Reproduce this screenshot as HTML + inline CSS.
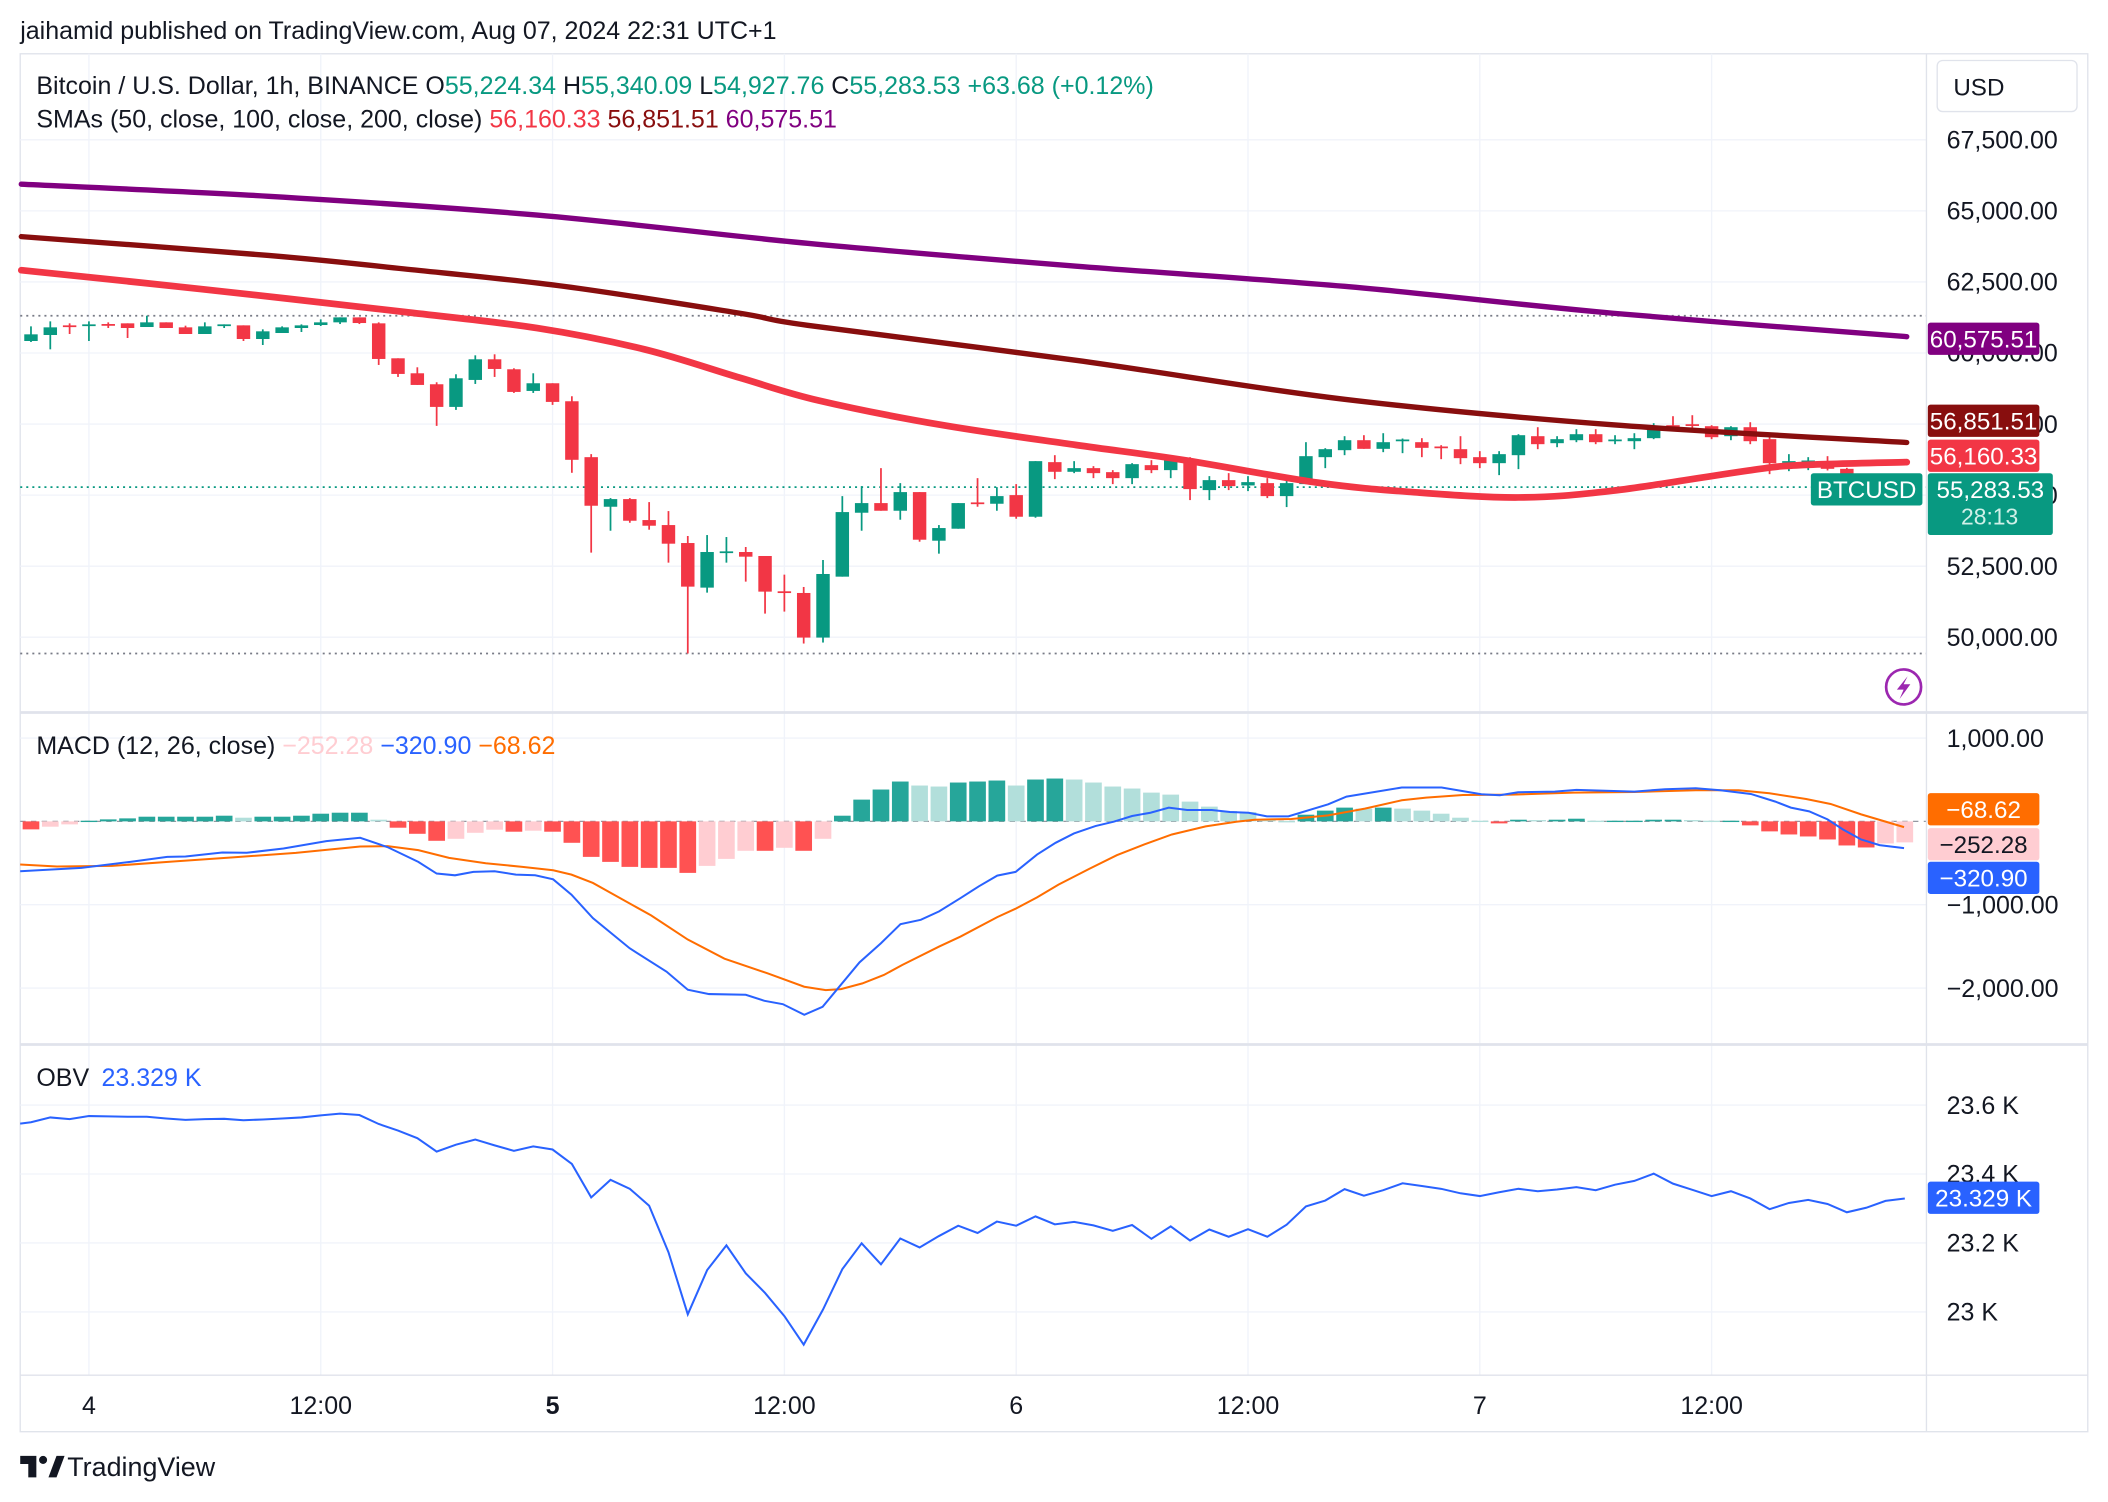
<!DOCTYPE html>
<html><head><meta charset="utf-8"><style>
html,body{margin:0;padding:0;background:#fff;}
svg{display:block;font-family:"Liberation Sans",Arial,sans-serif;}
</style></head><body>
<svg id="chart" width="2108" height="1502" viewBox="0 0 1568 1117.3" xmlns="http://www.w3.org/2000/svg">
<rect x="0" y="0" width="1568" height="1117.3" fill="#fff"/>
<text x="15" y="29" font-size="18.6" fill="#131722">jaihamid published on TradingView.com, Aug 07, 2024 22:31 UTC+1</text>
<rect x="15" y="40" width="1538" height="1025" fill="none" stroke="#e0e3eb" stroke-width="1"/>
<g id="grid"></g>
<g id="price"></g>
<g id="macd"></g>
<g id="obv"></g>
<g id="axes"></g>
<line x1="1433" y1="40" x2="1433" y2="1065" stroke="#e0e3eb"/>
<line x1="15" y1="530" x2="1553" y2="530" stroke="#e0e3eb" stroke-width="2"/>
<line x1="15" y1="777" x2="1553" y2="777" stroke="#e0e3eb" stroke-width="2"/>
<line x1="15" y1="1023" x2="1553" y2="1023" stroke="#e0e3eb"/>
<g font-size="18.6">
<text x="27" y="70" fill="#131722">Bitcoin / U.S. Dollar, 1h, BINANCE <tspan fill="#131722">O</tspan><tspan fill="#089981">55,224.34 </tspan><tspan fill="#131722">H</tspan><tspan fill="#089981">55,340.09 </tspan><tspan fill="#131722">L</tspan><tspan fill="#089981">54,927.76 </tspan><tspan fill="#131722">C</tspan><tspan fill="#089981">55,283.53 +63.68 (+0.12%)</tspan></text>
<text x="27" y="95" fill="#131722">SMAs (50, close, 100, close, 200, close) <tspan fill="#F23645">56,160.33 </tspan><tspan fill="#880E0E">56,851.51 </tspan><tspan fill="#800080">60,575.51</tspan></text>
</g>
<text x="27" y="561" font-size="18.6" fill="#131722">MACD (12, 26, close) <tspan fill="#FFCDD2">−252.28 </tspan><tspan fill="#2962FF">−320.90 </tspan><tspan fill="#FF6D00">−68.62</tspan></text>
<text x="27" y="808" font-size="18.6" fill="#131722">OBV <tspan fill="#2962FF" dx="4">23.329 K</tspan></text>
<g><rect x="1441" y="45" width="104" height="38" rx="4" fill="#fff" stroke="#e0e3eb"/><text x="1453" y="71" font-size="18" fill="#131722">USD</text></g>
<g><circle cx="1416" cy="511" r="13" fill="#fff" stroke="#9C27B0" stroke-width="2"/><path d="M1419 503 L1411 513 L1416 513 L1413 520 L1421 509 L1416 509 Z" fill="#9C27B0"/></g>
<g><path d="M15 1083 h12 v16 h-6 v-10 h-6 z" fill="#131722"/><circle cx="32" cy="1086" r="3" fill="#131722"/><path d="M36 1099 l6 -16 h6 l-6 16 z" fill="#131722"/><text x="50" y="1098" font-size="20" fill="#131722">TradingView</text></g>
</svg>
<script>
// ---------- DATA ----------
const opens=[60422,60633,60972,60949,61019,61043,60914,61078,60902,60668,60949,60972,60492,60703,60879,60984,61078,61253,61043,59813,59286,58900,58103,59052,59778,59427,58665,58935,58302,56335,54591,54860,54122,53946,53314,51745,52998,52998,52858,51616,51557,49988,52131,54380,54719,54450,55106,53396,53818,54743,54696,55000,54239,56160,55820,55949,55808,55597,56054,55879,56265,55176,55527,55340,55422,54965,55387,56335,56581,56932,56628,56932,56862,56710,56616,56335,56124,56405,57073,56827,56932,57143,56921,56897,57003,57459,57494,57424,57073,57389,56968,56160,56183,56160,55925,55300,55250,55224];
const closes=[60656,60902,60914,61007,60961,60879,61078,60879,60668,60937,61007,60492,60762,60902,60972,61078,61253,61054,59790,59263,58876,58103,59110,59778,59438,58630,58935,58279,56242,54626,54860,54098,53923,53291,51780,52998,53021,52834,51604,51581,49988,52225,54403,54719,54450,55106,53431,53841,54719,54696,54965,54239,56195,55820,55949,55773,55597,56089,55879,56230,55211,55527,55316,55457,54965,55422,56370,56616,56932,56628,56862,56956,56663,56675,56300,56124,56441,57108,56792,56968,57143,56862,56956,57003,57424,57424,57459,57038,57389,56897,56124,56195,56218,55925,55300,55250,55224,55283];
const highs=[60937,61113,61043,61113,61078,61043,61312,61078,60961,61078,61007,60972,60832,60937,61007,61183,61253,61253,61078,59813,59497,58970,59251,59918,59954,59462,59286,58935,58478,56441,54895,54895,54754,54438,53560,53595,53525,53174,52858,52202,51768,52717,54965,55316,55949,55422,55106,53946,54719,55597,55281,55387,56195,56405,56195,56019,55879,56124,56230,56335,56335,55668,55773,55668,55597,55633,56862,56651,57073,57108,57178,56991,57003,56757,57073,56546,56546,57143,57389,57073,57319,57319,57108,57178,57530,57776,57811,57459,57424,57565,57073,56441,56335,56370,55960,55400,55340,55340];
const lows=[60387,60129,60668,60422,60879,60527,60914,60879,60668,60668,60879,60422,60281,60703,60738,60949,61019,61019,59579,59157,58876,57436,57998,58911,59157,58595,58595,58174,55785,52975,53747,54028,53783,52624,49426,51569,52624,51956,50831,50902,49778,49813,52131,53747,54450,54134,53361,52940,53818,54591,54450,54169,54204,55562,55773,55597,55387,55387,55773,55597,54825,54825,55176,55141,54895,54579,55387,55949,56405,56628,56511,56476,56335,56265,56089,55949,55703,55914,56616,56686,56862,56792,56792,56616,56968,57249,57319,56968,56932,56792,55738,55843,55879,55867,55200,55150,55100,54927];
const smaHours=[-0.5,8.8,19.3,26.2,31.8,36.7,40.8,47.1,54.1,59.6,66.6,71.5,77,81.9,88.9,91.6,97.1];
const sma50=[62912,62250,61446,60878,60121,59128,58324,57472,56763,56243,55439,55107,54918,55155,55865,56054,56160];
const sma100Hours=[-0.5,12.3,19.3,27.6,36.7,40.2,54.1,68,81.9,97.1];
const sma100=[64094,63432,62959,62344,61398,60973,59743,58371,57472,56851];
const sma200Hours=[-0.5,12.3,26.2,40.2,54.1,68,81.9,97.1];
const sma200=[65939,65513,64851,63858,63054,62344,61398,60575];
const histValues=[-96,-64,-36,8,24,36,56,56,56,56,68,44,56,56,68,92,104,104,20,-76,-149,-233,-209,-137,-100,-124,-112,-124,-257,-426,-486,-546,-558,-558,-618,-534,-450,-353,-353,-317,-353,-209,68,261,382,478,430,418,466,478,490,430,502,514,502,466,418,394,345,321,237,177,124,112,24,4,80,129,165,153,165,153,129,92,44,8,-24,20,16,20,32,8,8,8,20,20,16,8,8,-48,-120,-157,-181,-217,-289,-313,-265,-252];
const macdHours=[-0.56,2.61,5.14,7.05,8.0,9.9,11.17,13.07,15.29,17.04,18.46,20.05,21.0,21.95,22.9,24.0,25.1,26.1,27.03,27.98,29.09,30.99,32.9,34.0,35.1,37.0,37.97,38.92,40.03,40.98,42.89,44.0,45.01,46.06,47.01,48.12,49.07,50.02,50.97,52.08,53.04,53.99,55.1,56.05,57.0,57.95,58.9,59.85,61.12,62.07,63.03,63.98,65.09,67.15,68.1,70.96,73.02,75.08,76.03,76.98,78.88,80.0,83.0,84.59,86.18,87.45,89.03,90.3,91.1,92.05,93.0,93.79,94.74,95.69,96.96];
const macdValues=[-598,-558,-486,-426,-422,-373,-377,-325,-237,-197,-309,-486,-626,-647,-606,-598,-639,-647,-695,-880,-1161,-1522,-1803,-2020,-2072,-2080,-2153,-2193,-2321,-2225,-1691,-1462,-1233,-1181,-1080,-920,-779,-651,-606,-398,-257,-145,-56,-4,64,104,165,137,137,112,104,60,60,205,297,406,406,325,313,349,357,378,357,386,398,373,329,237,165,120,24,-96,-217,-285,-321];
const signalHours=[-0.56,1.34,4.19,7.36,10.54,13.71,17.04,18.46,20.05,21.64,23.54,25.44,27.03,27.98,29.09,32.1,34.0,35.9,38.13,40.03,41.14,41.93,43.04,44.15,45.1,47.01,48.12,50.02,50.97,52.08,53.19,54.78,56.21,57.63,59.06,60.81,62.39,63.34,65.25,67.15,69.05,70.96,72.22,74.13,76.66,79.83,83.0,86.18,88.4,89.99,91.89,93.16,94.74,96.96];
const signalValues=[-518,-542,-534,-482,-430,-378,-301,-297,-345,-438,-502,-546,-586,-639,-739,-1128,-1418,-1647,-1823,-1984,-2024,-2012,-1944,-1843,-1723,-1502,-1382,-1149,-1048,-912,-759,-570,-406,-277,-157,-60,-4,20,28,72,153,253,285,317,321,345,353,373,373,337,269,209,84,-69];
const obvHours=[-0.56,0,1,2,3,4,5,6,7,8,9,10,11,12,13,14,15,16,17,18,19,20,21,22,23,24,25,26,27,28,29,30,31,32,33,34,35,36,37,38,39,40,41,42,43,44,45,46,47,48,49,50,51,52,53,54,55,56,57,58,59,60,61,62,63,64,65,66,67,68,69,70,71,72,73,74,75,76,77,78,79,80,81,82,83,84,85,86,87,88,89,90,91,92,93,94,95,96,97];
const obvValues=[23.546,23.550,23.564,23.559,23.568,23.567,23.566,23.566,23.561,23.557,23.559,23.560,23.556,23.558,23.561,23.564,23.570,23.575,23.571,23.545,23.526,23.504,23.465,23.485,23.500,23.483,23.467,23.480,23.471,23.429,23.332,23.383,23.357,23.308,23.173,22.993,23.121,23.193,23.112,23.055,22.988,22.905,23.007,23.124,23.199,23.138,23.213,23.187,23.220,23.250,23.229,23.262,23.250,23.277,23.254,23.261,23.251,23.235,23.252,23.212,23.248,23.207,23.239,23.218,23.240,23.218,23.253,23.306,23.323,23.356,23.337,23.353,23.373,23.365,23.357,23.344,23.336,23.347,23.357,23.350,23.355,23.362,23.353,23.369,23.380,23.401,23.372,23.354,23.336,23.350,23.329,23.298,23.316,23.325,23.313,23.289,23.302,23.322,23.329];
const priceTicks=[67500,65000,62500,60000,57500,55000,52500,50000];
const macdTicks=[1000,-1000,-2000];
const macdTickLabels=["1,000.00","−1,000.00","−2,000.00"];
const obvTicks=[23.6,23.4,23.2,23.0];
const obvTickLabels=["23.6 K","23.4 K","23.2 K","23 K"];
const timeTickHours=[3,15,27,39,51,63,75,87];
const timeTickLabels=["4","12:00","5","12:00","6","12:00","7","12:00"];

// ---------- SCALES ----------
const NS="http://www.w3.org/2000/svg";
const X=h=>23+14.37*h;
const PY=p=>104+(67500-p)/2500*52.86;
const MY=v=>611-v*0.062;
const OY=v=>822+(23.6-v)/0.2*51.3;
function mk(tag,attrs,parent){const e=document.createElementNS(NS,tag);for(const k in attrs)e.setAttribute(k,attrs[k]);parent.appendChild(e);return e;}
const grid=document.getElementById('grid'),price=document.getElementById('price'),macd=document.getElementById('macd'),obv=document.getElementById('obv'),axes=document.getElementById('axes');
const FS=18.6;

timeTickHours.forEach((h,i)=>{
  const l=mk('line',{x1:X(h),x2:X(h),y1:40,y2:1023,stroke:'#f0f3fa','stroke-width':1},grid);
  
  
  const t=mk('text',{x:X(h),y:1052,'font-size':FS,'text-anchor':'middle',fill:'#131722','font-weight':(i==2)?'bold':'normal'},axes);
  t.textContent=timeTickLabels[i];
  
  
});
priceTicks.forEach(p=>{
  const y=PY(p);
  const l=mk('line',{x1:15,x2:1433,y1:y,y2:y,stroke:'#f0f3fa'},grid);
  
  
  const t=mk('text',{x:1448,y:y+6.5,'font-size':FS,fill:'#131722'},axes);
  t.textContent=p.toLocaleString('en-US',{minimumFractionDigits:2});
  
  
});
macdTicks.forEach((v,i)=>{
  const y=MY(v);
  const l=mk('line',{x1:15,x2:1433,y1:y,y2:y,stroke:'#f0f3fa'},grid);
  
  
  const t=mk('text',{x:1448,y:y+6.5,'font-size':FS,fill:'#131722'},axes);
  t.textContent=macdTickLabels[i];
  
  
});
obvTicks.forEach((v,i)=>{
  const y=OY(v);
  const l=mk('line',{x1:15,x2:1433,y1:y,y2:y,stroke:'#f0f3fa'},grid);
  
  
  const t=mk('text',{x:1448,y:y+6.5,'font-size':FS,fill:'#131722'},axes);
  t.textContent=obvTickLabels[i];
  
  
});

const hi=Math.max(...highs),lo=Math.min(...lows),last=closes[closes.length-1];
[[hi,'#787b86'],[lo,'#787b86'],[last,'#089981']].forEach(([p,c])=>{
  const l=mk('line',{x1:15,x2:1433,y1:PY(p),y2:PY(p),stroke:c,'stroke-width':1.3,'stroke-dasharray':'1.5 3'},price);
  
  
});

for(let i=0;i<opens.length;i++){
  const up=closes[i]>=opens[i],c=up?'#089981':'#F23645',x=X(i);
  const w=mk('line',{x1:x,x2:x,y1:PY(highs[i]),y2:PY(lows[i]),stroke:c,'stroke-width':1.3},price);
  
  
  const top=PY(Math.max(opens[i],closes[i])),bot=PY(Math.min(opens[i],closes[i]));
  const b=mk('rect',{x:x-5,y:top,width:10,height:Math.max(1.3,bot-top),fill:c},price);
  
  
}

function smooth(pts){let d='M'+pts[0][0]+' '+pts[0][1];for(let i=0;i<pts.length-1;i++){const p0=pts[Math.max(0,i-1)],p1=pts[i],p2=pts[i+1],p3=pts[Math.min(pts.length-1,i+2)];d+=' C'+(p1[0]+(p2[0]-p0[0])/6)+' '+(p1[1]+(p2[1]-p0[1])/6)+' '+(p2[0]-(p3[0]-p1[0])/6)+' '+(p2[1]-(p3[1]-p1[1])/6)+' '+p2[0]+' '+p2[1];}return d;}
[[sma200Hours,sma200,'#800080',4,'sma-200-line'],[sma100Hours,sma100,'#880E0E',4,'sma-100-line'],[smaHours,sma50,'#F23645',5,'sma-50-line']].forEach(([hs,vs,c,w,n])=>{
  const p=mk('path',{d:smooth(hs.map((h,i)=>[X(h),PY(vs[i])])),fill:'none',stroke:c,'stroke-width':w,'stroke-linecap':'round'},price);
  
  
});

mk('line',{x1:15,x2:1433,y1:MY(0),y2:MY(0),stroke:'#9598a1','stroke-dasharray':'4 4','stroke-width':1},macd);
histValues.forEach((v,i)=>{
  const prev=i>0?histValues[i-1]:v;
  const c=v>=0?(v>=prev?'#26A69A':'#B2DFDB'):(v<=prev?'#FF5252':'#FFCDD2');
  const y0=MY(0),y1=MY(v);
  const r=mk('rect',{x:X(i)-6.2,y:Math.min(y0,y1),width:12.4,height:Math.max(1,Math.abs(y1-y0)),fill:c},macd);
  
  
});
const sig=mk('polyline',{points:signalHours.map((h,i)=>X(h)+','+MY(signalValues[i])).join(' '),fill:'none',stroke:'#FF6D00','stroke-width':1.5},macd);


const ml=mk('polyline',{points:macdHours.map((h,i)=>X(h)+','+MY(macdValues[i])).join(' '),fill:'none',stroke:'#2962FF','stroke-width':1.5},macd);



const ol=mk('polyline',{points:obvValues.map((v,i)=>X(obvHours[i])+','+OY(v)).join(' '),fill:'none',stroke:'#2962FF','stroke-width':1.5},obv);



function tag(y,h,bg,txt,fg,name,x,w){
  const g=mk('g',{},axes);
  
  
  mk('rect',{x:x||1434,y:y,width:w||83,height:h,fill:bg,rx:2},g);
  const t=mk('text',{x:(x||1434)+(w||83)/2,y:y+18.5,'font-size':18,'text-anchor':'middle',fill:fg},g);t.textContent=txt;
  return g;
}
tag(240,24,'#800080','60,575.51','#fff','sma-200-value-label');
tag(301,24,'#880E0E','56,851.51','#fff','sma-100-value-label');
tag(327,24,'#F23645','56,160.33','#fff','sma-50-value-label');
const g1=tag(352,46,'#089981','55,283.53','#fff','last-price-label',1434,93);
const cd=mk('text',{x:1480,y:390,'font-size':17,'text-anchor':'middle',fill:'#d0f0e8'},g1);cd.textContent='28:13';
tag(352,24,'#089981','BTCUSD','#fff','symbol-label',1347,83);
tag(590,24,'#FF6D00','−68.62','#fff','signal-value-label');
tag(616,24,'#FFCDD2','−252.28','#131722','histogram-value-label');
tag(641,24,'#2962FF','−320.90','#fff','macd-value-label');
tag(879,24,'#2962FF','23.329 K','#fff','obv-value-label');
</script>
</body></html>
